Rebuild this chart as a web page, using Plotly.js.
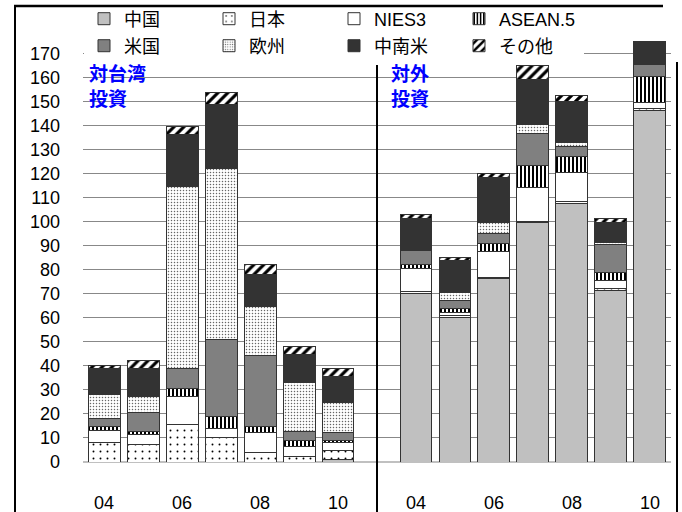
<!DOCTYPE html>
<html><head><meta charset="utf-8">
<script src="https://cdn.plot.ly/plotly-3.0.1.min.js"></script>
<style>html,body{margin:0;padding:0;background:#fff;overflow:hidden}</style>
</head><body><div id="chart" style="width:682px;height:512px"></div>
<script>
// ---- data ----
const years = ['04','05','06','07','08','09','10'];
const tickYears = ['04','06','08','10'];
const regions = ['中国','日本','NIES3','ASEAN.5','米国','欧州','中南米','その他'];

// 対台湾投資
const twChina  = [0, 0, 0, 0, 0, 0, 1.0];
const twJapan  = [8.3, 7.2, 15.7, 10.0, 3.9, 2.1, 3.9];
const twNies   = [4.8, 4.3, 11.4, 3.8, 8.4, 4.4, 3.3];
const twAsean  = [1.8, 1.0, 3.6, 5.2, 2.6, 2.5, 0.8];
const twUS     = [3.4, 8.3, 8.2, 32.0, 29.3, 3.5, 3.4];
const twEurope = [9.8, 6.3, 76.0, 71.2, 20.4, 20.4, 12.3];
const twLatAm  = [10.8, 11.8, 21.6, 26.8, 13.6, 12.0, 11.1];
const twOther  = [1.3, 3.5, 3.4, 5.0, 4.0, 3.0, 3.1];

// 対外投資
const outChina  = [70.2, 60.0, 76.4, 99.8, 107.7, 71.5, 146.5];
const outJapan  = [0.6, 0.8, 0.3, 0.3, 0.6, 0.7, 0.7];
const outNies   = [9.8, 1.3, 10.8, 14.2, 12.3, 3.2, 2.4];
const outAsean  = [1.6, 1.8, 3.3, 9.3, 6.8, 3.6, 10.8];
const outUS     = [5.7, 3.5, 4.3, 13.2, 3.9, 11.7, 5.2];
const outEurope = [0, 3.2, 4.7, 3.9, 1.9, 0.5, 0.2];
const outLatAm  = [13.5, 13.4, 18.5, 18.7, 16.9, 8.5, 8.7];
const outOther  = [1.7, 1.0, 1.7, 5.9, 2.4, 1.7, 0.4];

const yTickMax = 170, yTickStep = 10;

const twSeries  = [twChina, twJapan, twNies, twAsean, twUS, twEurope, twLatAm, twOther];
const outSeries = [outChina, outJapan, outNies, outAsean, outUS, outEurope, outLatAm, outOther];

// ---- styles ----
const styles = [
  {color:'#c0c0c0'},
  {color:'#ffffff', pattern:{shape:'.', fgcolor:'#000', bgcolor:'#fff', size:7, solidity:0.06}},
  {color:'#ffffff'},
  {color:'#ffffff', pattern:{shape:'|', fgcolor:'#000', bgcolor:'#fff', size:4, solidity:0.5}},
  {color:'#808080'},
  {color:'#ffffff', pattern:{shape:'.', fgcolor:'#666', bgcolor:'#fff', size:3, solidity:0.2}},
  {color:'#333333'},
  {color:'#ffffff', pattern:{shape:'/', fgcolor:'#000', bgcolor:'#fff', size:7, solidity:0.45}}
];

const gap = 1;
const xLeft  = years.map((_, i) => i);
const xRight = years.map((_, i) => i + years.length + gap);
const xAll = xLeft.concat(xRight);
const tickvals = [], ticktext = [];
years.forEach((y, i) => {
  if (tickYears.includes(y)) { tickvals.push(xLeft[i]); ticktext.push(y); }
});
years.forEach((y, i) => {
  if (tickYears.includes(y)) { tickvals.push(xRight[i]); ticktext.push(y); }
});
const yTicks = [];
for (let v = 0; v <= yTickMax; v += yTickStep) yTicks.push(v);

const traces = regions.map((name, k) => {
  const st = styles[k];
  const marker = {color: st.color, line:{color:'#333', width:1}};
  if (st.pattern) marker.pattern = st.pattern;
  return {
    type:'bar', name: name,
    x: xAll,
    y: twSeries[k].concat(outSeries[k]),
    marker: marker,
    width: 0.82,
    legend: k < 4 ? 'legend' : 'legend2',
    hoverinfo:'skip'
  };
});

const PT = 0, PB = 50.3, H = 512, W = 682, PL = 83, PR = 11;
const ph = H - PT - PB, pw = W - PL - PR;
const pxPerUnit = 2.4;
const yTop = ph / pxPerUnit;
const py = v => (H - PB - v) / ph;      // pixel y -> paper
const px = v => (v - PL) / pw;          // pixel x -> paper
const divX = years.length - 1 + (gap + 1) / 2;

const legFont = {family:'Liberation Sans, Noto Sans CJK JP, sans-serif', size:18, color:'#000'};
const legBase = {
  orientation:'h', traceorder:'normal',
  x: px(84), xanchor:'left', yanchor:'top',
  borderwidth:0,
  entrywidth: 80, entrywidthmode:'pixels',
  font: legFont, itemclick:false
};

const layout = {
  width: W, height: H,
  margin: {l: PL, r: PR, t: PT, b: PB, pad: 0},
  paper_bgcolor:'#fff', plot_bgcolor:'#fff',
  barmode:'stack',
  bargap: 0,
  font: {family:'Liberation Sans, Noto Sans CJK JP, sans-serif', size:18, color:'#000'},
  showlegend: true,
  legend: Object.assign({}, legBase, {y: py(0.5), bgcolor:'rgba(0,0,0,0)'}),
  legend2: Object.assign({}, legBase, {y: py(27.5), bgcolor:'#fff'}),
  xaxis: {
    range: [-0.54, 14.54],
    tickmode:'array', tickvals: tickvals, ticktext: ticktext,
    showgrid:false, zeroline:false, showline:false, ticks:'',
    ticklabelstandoff: 28,
    tickfont: {size:18}
  },
  yaxis: {
    range: [0, yTop],
    tickmode:'array', tickvals: yTicks,
    showgrid:true, gridcolor:'#888', gridwidth:1,
    zeroline:true, zerolinecolor:'#c0c0c0', zerolinewidth:2,
    showline:false, ticks:'',
    ticklabelstandoff: 22,
    tickfont:{size:18}
  },
  shapes: [
    {type:'line', xref:'x', yref:'paper', x0:divX, x1:divX, y0:py(512), y1:py(62), line:{color:'#000', width:2}},
    {type:'line', xref:'paper', yref:'paper', x0:px(14), x1:px(663), y0:py(6), y1:py(6), line:{color:'#000', width:2.5}},
    {type:'line', xref:'paper', yref:'paper', x0:px(15), x1:px(15), y0:py(6), y1:py(512), line:{color:'#000', width:2}},
    {type:'line', xref:'paper', yref:'paper', x0:px(677), x1:px(677), y0:py(62), y1:py(512), line:{color:'#000', width:2}}
  ],
  annotations: [
    {xref:'paper', yref:'paper', x:px(87), y:py(57), xanchor:'left', yanchor:'top', align:'left',
     text:'<b>対台湾<br>投資</b>', showarrow:false,
     font:{family:'Noto Sans CJK JP, sans-serif', size:19, color:'#0000ff'}},
    {xref:'paper', yref:'paper', x:px(389), y:py(57), xanchor:'left', yanchor:'top', align:'left',
     text:'<b>対外<br>投資</b>', showarrow:false,
     font:{family:'Noto Sans CJK JP, sans-serif', size:19, color:'#0000ff'}}
  ]
};

Plotly.newPlot('chart', traces, layout, {staticPlot:true, displayModeBar:false});
</script>
</body></html>
